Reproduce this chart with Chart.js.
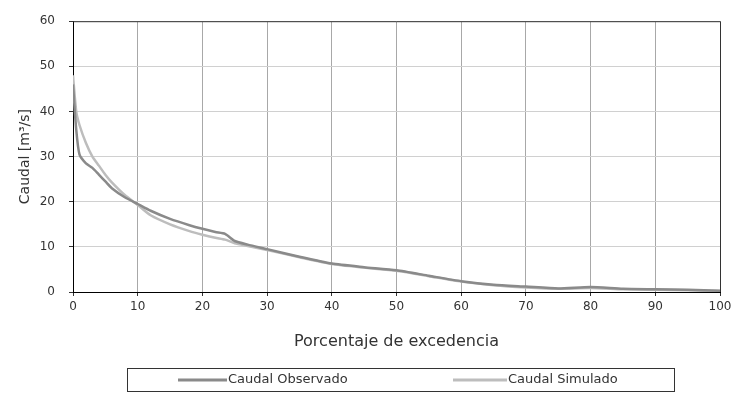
<!DOCTYPE html>
<html>
<head>
<meta charset="utf-8">
<script src="https://cdn.jsdelivr.net/npm/chart.js@4.4.1/dist/chart.umd.min.js"></script>
<style>
  html, body { margin: 0; padding: 0; background: #fff; }
  #wrap { width: 736px; height: 396px; }
</style>
</head>
<body>
<div id="wrap"><canvas id="curva"></canvas></div>
<script>
// percentage of exceedance (x) shared by both series
var pct = [0, 0.5, 1, 2, 3, 4, 5, 6, 8, 10, 12, 15, 18, 20, 22, 23.5, 25, 27, 30, 35, 40, 45, 50, 55, 60, 65, 70, 75, 80, 85, 90, 95, 100];
var caudalObservado = [46, 36, 30.5, 28.5, 27.5, 26, 24.5, 23, 21, 19.5, 18, 16.2, 14.8, 14, 13.3, 12.9, 11.3, 10.5, 9.5, 7.8, 6.3, 5.5, 4.8, 3.6, 2.4, 1.6, 1.2, 0.8, 1.1, 0.7, 0.6, 0.5, 0.3];
var caudalSimulado = [48, 40, 37, 33, 30, 28, 26, 24.3, 21.5, 19.3, 17, 15, 13.5, 12.7, 12, 11.6, 10.8, 10.2, 9.3, 7.7, 6.2, 5.4, 4.7, 3.5, 2.3, 1.5, 1.0, 0.7, 0.9, 0.6, 0.5, 0.4, 0.2];
var xTicks = [0, 10, 20, 30, 40, 50, 60, 70, 80, 90, 100];
var yTicks = [0, 10, 20, 30, 40, 50, 60];

var colObs = '#8a8a8a';
var colSim = '#bdbdbd';
var fontFam = '"DejaVu Sans", "Liberation Sans", sans-serif';

function toPoints(xs, ys) {
  var pts = [];
  for (var i = 0; i < xs.length; i++) pts.push({x: xs[i], y: ys[i]});
  return pts;
}

// frame on top/right + boxed legend under the axis title
var frameAndLegend = {
  id: 'frameAndLegend',
  beforeDatasetsDraw: function(chart) {
    var a = chart.chartArea, ctx = chart.ctx;
    ctx.save();
    ctx.strokeStyle = '#333';
    ctx.lineWidth = 1;
    ctx.beginPath();
    ctx.moveTo(a.left, a.top + 0.5);
    ctx.lineTo(a.right + 0.5, a.top + 0.5);
    ctx.lineTo(a.right + 0.5, a.bottom);
    ctx.stroke();
    ctx.restore();
  },
  afterDraw: function(chart) {
    var ctx = chart.ctx;
    ctx.save();
    ctx.strokeStyle = '#333';
    ctx.lineWidth = 1;
    ctx.strokeRect(127.5, 368.5, 547, 23);
    var items = [
      {x: 178, w: 49, ds: chart.data.datasets[0]},
      {x: 453, w: 54, ds: chart.data.datasets[1]}
    ];
    ctx.font = '13px ' + fontFam;
    ctx.textBaseline = 'middle';
    ctx.fillStyle = '#333';
    items.forEach(function(it) {
      ctx.strokeStyle = it.ds.borderColor;
      ctx.lineWidth = 3;
      ctx.beginPath();
      ctx.moveTo(it.x, 380);
      ctx.lineTo(it.x + it.w, 380);
      ctx.stroke();
      ctx.fillText(it.ds.label, it.x + it.w + 1, 380);
    });
    ctx.restore();
  }
};

var ctx = document.getElementById('curva').getContext('2d');
var chart = new Chart(ctx, {
  type: 'line',
  data: {
    datasets: [
      {
        label: 'Caudal Observado',
        data: toPoints(pct, caudalObservado),
        borderColor: colObs,
        backgroundColor: colObs,
        borderWidth: 2.5,
        pointRadius: 0,
        tension: 0.2,
        fill: false
      },
      {
        label: 'Caudal Simulado',
        data: toPoints(pct, caudalSimulado),
        borderColor: colSim,
        backgroundColor: colSim,
        borderWidth: 2.5,
        pointRadius: 0,
        tension: 0.2,
        fill: false
      }
    ]
  },
  options: {
    responsive: true,
    maintainAspectRatio: false,
    animation: false,
    layout: { padding: { top: 18, right: 16, left: 0, bottom: 0 } },
    plugins: {
      legend: { display: false },
      tooltip: { enabled: false }
    },
    scales: {
      x: {
        type: 'linear',
        min: 0,
        max: 100,
        afterBuildTicks: function(scale) {
          scale.ticks = xTicks.map(function(v) { return {value: v}; });
        },
        afterFit: function(scale) { scale.height = 104; },
        grid: { color: '#a8a8a8', tickColor: '#333', tickLength: 4 },
        border: { color: '#000', width: 1 },
        ticks: { color: '#333', font: { family: fontFam, size: 12 }, padding: 4, maxRotation: 0 },
        title: {
          display: true,
          text: 'Porcentaje de excedencia',
          color: '#333',
          font: { family: fontFam, size: 16 },
          padding: { top: 0, bottom: 45 }
        }
      },
      y: {
        min: 0,
        max: 60,
        afterBuildTicks: function(scale) {
          scale.ticks = yTicks.map(function(v) { return {value: v}; });
        },
        afterFit: function(scale) { scale.width = 73; },
        grid: { color: '#d0d0d0', tickColor: '#333', tickLength: 4 },
        border: { color: '#000', width: 1 },
        ticks: { color: '#333', font: { family: fontFam, size: 12 }, padding: 14 },
        title: {
          display: true,
          text: 'Caudal [m³/s]',
          color: '#333',
          font: { family: fontFam, size: 14 },
          padding: { top: 17, bottom: 0 }
        }
      }
    }
  },
  plugins: [frameAndLegend]
});
</script>
</body>
</html>
